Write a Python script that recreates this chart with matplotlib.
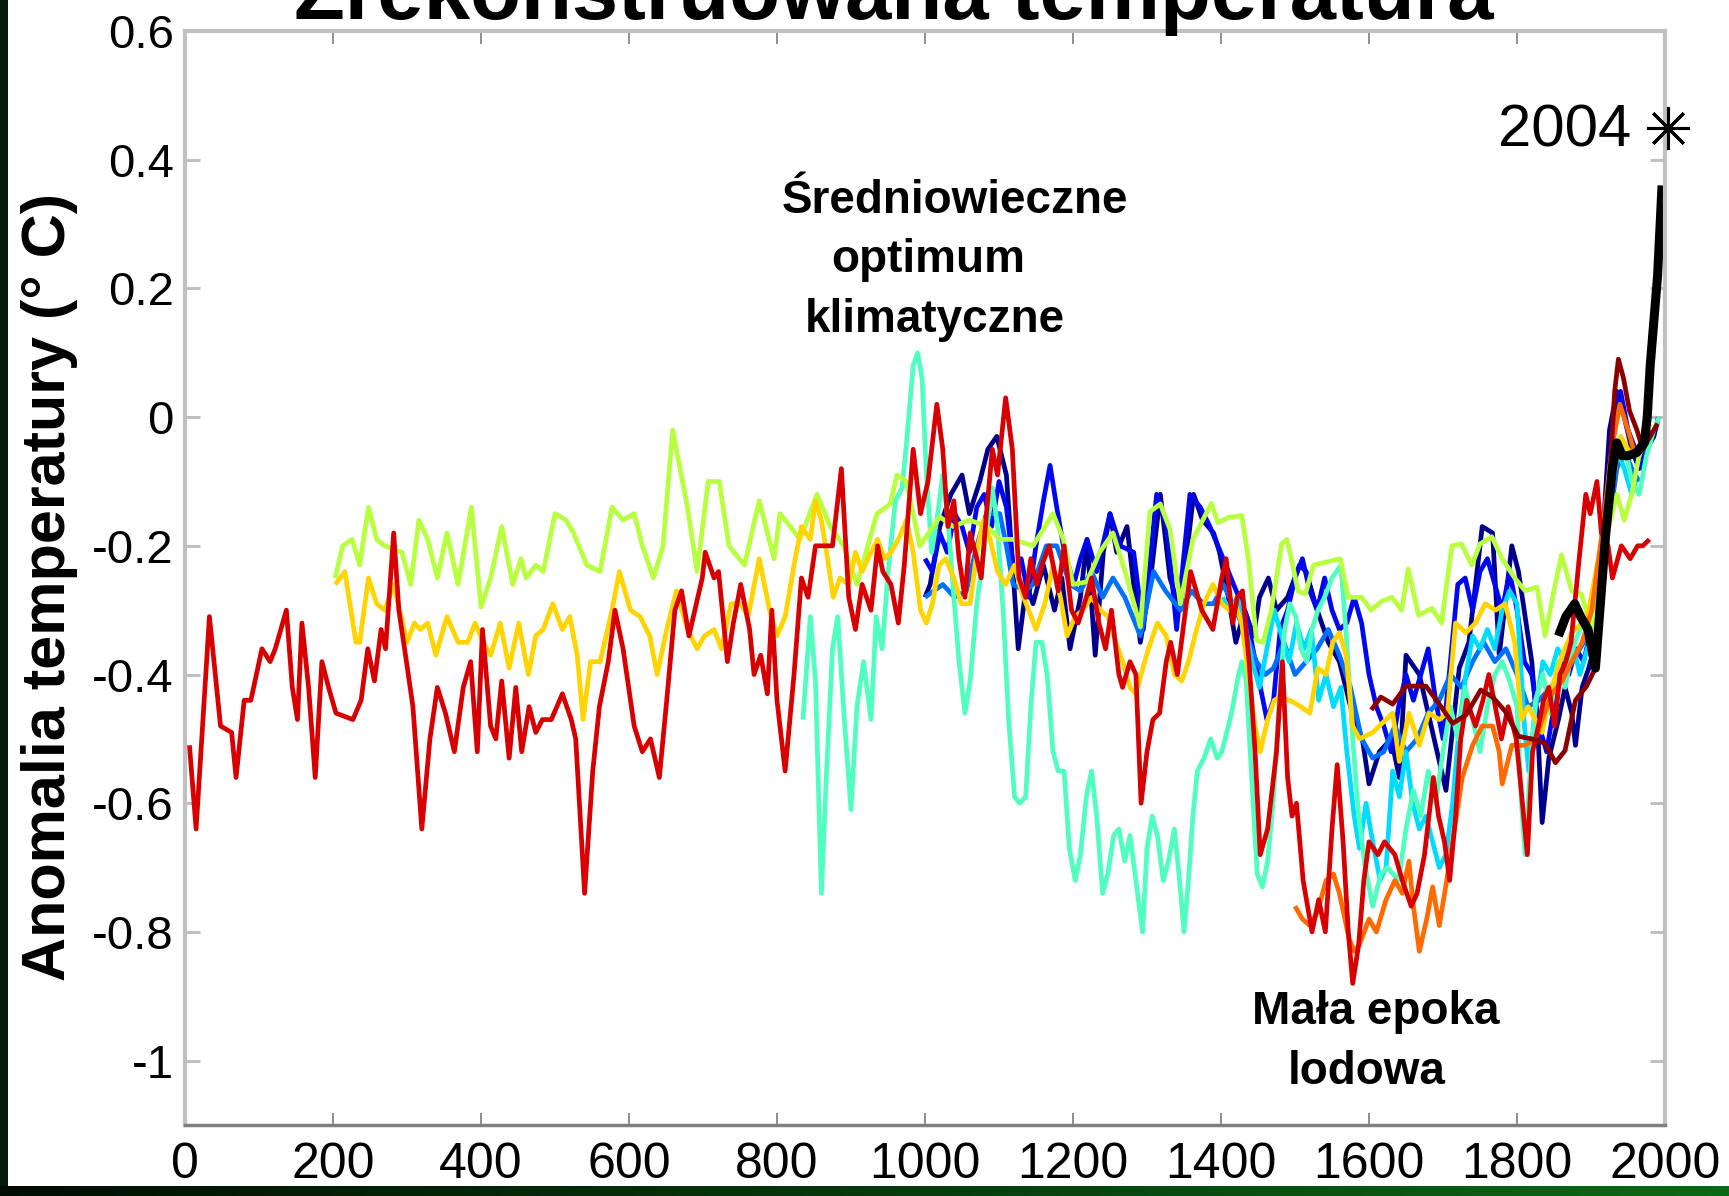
import numpy as np
import matplotlib
matplotlib.use("Agg")
import matplotlib.pyplot as plt
from matplotlib import font_manager
from matplotlib.colors import LinearSegmentedColormap
from matplotlib.patches import Rectangle

W, H, DPI = 1729, 1196, 100

# ---------------- temperature reconstructions (year, anomaly in deg C) ----------------
jones98_years = [1000, 1007, 1020, 1035, 1050, 1060, 1074, 1085, 1097, 1110, 1119, 1126, 1137, 1146, 1160,
                 1175, 1185, 1196, 1210, 1219, 1230, 1241, 1250, 1259, 1273, 1291, 1304, 1318, 1331, 1345,
                 1363, 1375, 1390, 1398, 1410, 1420, 1432, 1444, 1452, 1464, 1475, 1490, 1506, 1515, 1530,
                 1545, 1560, 1575, 1591, 1600, 1614, 1630, 1641, 1650, 1668, 1686, 1704, 1722, 1735, 1753,
                 1767, 1776, 1793, 1802, 1820, 1829, 1834, 1843, 1856, 1865, 1874, 1879, 1888, 1897, 1906,
                 1915, 1925, 1935, 1945, 1955, 1965, 1975, 1985, 1991]
jones98_vals = [-0.28, -0.26, -0.17, -0.12, -0.09, -0.15, -0.10, -0.05, -0.03, -0.09, -0.24, -0.36, -0.26, -0.29, -0.23,
                -0.30, -0.25, -0.36, -0.28, -0.19, -0.37, -0.21, -0.15, -0.21, -0.17, -0.35, -0.26, -0.12, -0.25, -0.30,
                -0.12, -0.16, -0.18, -0.21, -0.28, -0.35, -0.30, -0.34, -0.28, -0.25, -0.30, -0.28, -0.23, -0.24, -0.30,
                -0.35, -0.38, -0.45, -0.50, -0.57, -0.52, -0.50, -0.56, -0.37, -0.40, -0.49, -0.58, -0.39, -0.35, -0.17,
                -0.18, -0.37, -0.20, -0.24, -0.38, -0.51, -0.63, -0.53, -0.47, -0.42, -0.46, -0.51, -0.42, -0.39, -0.35,
                -0.20, -0.02, 0.04, 0.00, -0.05, -0.08, -0.05, -0.03, 0.00]

mann99_years = [1000, 1010, 1020, 1030, 1040, 1050, 1060, 1070, 1080, 1090, 1100, 1110, 1120, 1130, 1140,
                1150, 1160, 1169, 1178, 1187, 1201, 1210, 1219, 1232, 1240, 1250, 1264, 1282, 1295, 1313,
                1327, 1340, 1358, 1372, 1385, 1403, 1417, 1435, 1448, 1462, 1471, 1480, 1490, 1500, 1510,
                1520, 1530, 1540, 1550, 1560, 1570, 1580, 1590, 1600, 1610, 1620, 1630, 1640, 1650, 1660,
                1670, 1680, 1690, 1700, 1710, 1720, 1730, 1740, 1750, 1760, 1770, 1780, 1790, 1800, 1810,
                1820, 1830, 1840, 1850, 1860, 1870, 1880, 1890, 1900, 1910, 1920, 1930, 1940, 1950, 1960,
                1970, 1980]
mann99_vals = [-0.22, -0.24, -0.18, -0.21, -0.15, -0.17, -0.21, -0.14, -0.12, -0.17, -0.10, -0.14, -0.24, -0.22, -0.28,
               -0.20, -0.13, -0.075, -0.14, -0.20, -0.26, -0.22, -0.19, -0.24, -0.20, -0.15, -0.20, -0.21, -0.33, -0.12,
               -0.17, -0.33, -0.12, -0.14, -0.17, -0.22, -0.26, -0.31, -0.39, -0.47, -0.44, -0.33, -0.30, -0.25, -0.22,
               -0.27, -0.30, -0.25, -0.30, -0.33, -0.32, -0.28, -0.32, -0.40, -0.45, -0.48, -0.52, -0.45, -0.40, -0.44,
               -0.40, -0.36, -0.44, -0.50, -0.38, -0.26, -0.25, -0.30, -0.24, -0.22, -0.26, -0.30, -0.24, -0.30, -0.38,
               -0.40, -0.48, -0.52, -0.45, -0.38, -0.40, -0.36, -0.38, -0.33, -0.30, -0.18, 0.00, 0.04, -0.02, -0.05,
               -0.08, -0.02]

crowley_years = [1000, 1012, 1024, 1040, 1056, 1070, 1083, 1101, 1110, 1119, 1135, 1146, 1164, 1178, 1196,
                 1210, 1225, 1240, 1254, 1270, 1291, 1309, 1325, 1345, 1360, 1376, 1390, 1403, 1420, 1435,
                 1448, 1460, 1471, 1485, 1500, 1515, 1530, 1545, 1560, 1575, 1590, 1605, 1620, 1635, 1650,
                 1665, 1680, 1695, 1710, 1725, 1740, 1755, 1770, 1785, 1800, 1815, 1830, 1845, 1860, 1875,
                 1890, 1905, 1920, 1935, 1945, 1955, 1965]
crowley_vals = [-0.28, -0.27, -0.26, -0.28, -0.27, -0.20, -0.15, -0.15, -0.20, -0.26, -0.27, -0.26, -0.20, -0.20, -0.26,
                -0.27, -0.24, -0.28, -0.25, -0.28, -0.34, -0.24, -0.27, -0.30, -0.27, -0.29, -0.29, -0.26, -0.30, -0.34,
                -0.38, -0.40, -0.39, -0.35, -0.40, -0.38, -0.36, -0.33, -0.37, -0.42, -0.50, -0.53, -0.52, -0.48, -0.52,
                -0.50, -0.46, -0.44, -0.40, -0.42, -0.38, -0.35, -0.38, -0.36, -0.40, -0.45, -0.44, -0.42, -0.40, -0.38,
                -0.35, -0.32, -0.20, -0.08, -0.05, -0.08, -0.10]

briffa_years = [1402, 1412, 1422, 1432, 1442, 1452, 1462, 1472, 1482, 1492, 1502, 1512, 1522, 1532, 1542,
                1552, 1562, 1570, 1580, 1587, 1596, 1605, 1615, 1623, 1632, 1641, 1650, 1659, 1668, 1677,
                1686, 1695, 1704, 1713, 1722, 1731, 1740, 1750, 1760, 1770, 1780, 1790, 1800, 1810, 1816,
                1825, 1835, 1845, 1855, 1865, 1875, 1885, 1895, 1905, 1915, 1925, 1935, 1945, 1955, 1960]
briffa_vals = [-0.28, -0.30, -0.28, -0.32, -0.38, -0.42, -0.36, -0.30, -0.34, -0.38, -0.32, -0.36, -0.33, -0.44, -0.40,
               -0.45, -0.42, -0.52, -0.62, -0.67, -0.60, -0.66, -0.72, -0.70, -0.55, -0.59, -0.52, -0.60, -0.64, -0.62,
               -0.66, -0.70, -0.68, -0.60, -0.48, -0.40, -0.34, -0.36, -0.33, -0.36, -0.30, -0.27, -0.29, -0.48, -0.55,
               -0.45, -0.38, -0.40, -0.36, -0.38, -0.35, -0.40, -0.36, -0.30, -0.22, -0.12, -0.05, -0.08, -0.12, -0.10]

esper_years = [835, 845, 852, 860, 867, 875, 882, 891, 900, 908, 917, 927, 934, 942, 951,
               960, 969, 975, 984, 990, 996, 1002, 1009, 1016, 1024, 1031, 1039, 1046, 1054, 1061,
               1070, 1076, 1085, 1091, 1098, 1106, 1113, 1121, 1128, 1136, 1143, 1150, 1158, 1165, 1173,
               1180, 1188, 1195, 1203, 1210, 1218, 1225, 1232, 1240, 1247, 1255, 1262, 1270, 1277, 1285,
               1294, 1300, 1307, 1314, 1322, 1329, 1337, 1344, 1350, 1356, 1362, 1368, 1377, 1386, 1395,
               1401, 1410, 1416, 1422, 1428, 1434, 1441, 1449, 1456, 1463, 1471, 1478, 1486, 1493, 1501,
               1508, 1516, 1523, 1531, 1540, 1550, 1562, 1570, 1578, 1586, 1595, 1605, 1616, 1625, 1640,
               1650, 1660, 1670, 1680, 1690, 1700, 1710, 1720, 1730, 1740, 1750, 1760, 1770, 1780, 1790,
               1800, 1806, 1811, 1816, 1825, 1835, 1845, 1855, 1865, 1875, 1885, 1895, 1905, 1915, 1925,
               1935, 1945, 1955, 1965, 1975, 1985, 1992]
esper_vals = [-0.47, -0.31, -0.41, -0.74, -0.55, -0.36, -0.31, -0.47, -0.61, -0.45, -0.38, -0.47, -0.31, -0.36, -0.23,
              -0.13, -0.11, -0.04, 0.08, 0.10, 0.06, -0.09, -0.21, -0.16, -0.09, -0.16, -0.28, -0.38, -0.46, -0.41,
              -0.29, -0.24, -0.16, -0.11, -0.17, -0.31, -0.47, -0.59, -0.60, -0.59, -0.45, -0.35, -0.35, -0.40, -0.52,
              -0.55, -0.55, -0.67, -0.72, -0.68, -0.59, -0.55, -0.62, -0.74, -0.71, -0.65, -0.64, -0.69, -0.65, -0.72,
              -0.80, -0.67, -0.62, -0.65, -0.72, -0.69, -0.64, -0.72, -0.80, -0.72, -0.62, -0.55, -0.53, -0.50, -0.53,
              -0.52, -0.48, -0.45, -0.41, -0.38, -0.41, -0.55, -0.71, -0.73, -0.69, -0.59, -0.45, -0.33, -0.29, -0.31,
              -0.36, -0.38, -0.33, -0.30, -0.28, -0.25, -0.23, -0.35, -0.50, -0.62, -0.70, -0.76, -0.71, -0.70, -0.72,
              -0.64, -0.58, -0.62, -0.55, -0.60, -0.52, -0.45, -0.50, -0.42, -0.47, -0.52, -0.45, -0.40, -0.38, -0.41,
              -0.45, -0.60, -0.68, -0.58, -0.44, -0.40, -0.46, -0.38, -0.42, -0.36, -0.33, -0.32, -0.28, -0.22, -0.14,
              -0.06, -0.04, -0.10, -0.12, -0.06, -0.02, 0.00]

mann_jones03_years = [203, 213, 226, 236, 248, 259, 270, 293, 305, 316, 328, 341, 354, 369, 387,
                      400, 413, 428, 443, 454, 461, 474, 484, 500, 515, 525, 543, 561, 577, 592,
                      607, 618, 633, 646, 659, 679, 692, 707, 722, 735, 756, 776, 796, 804, 818,
                      831, 854, 872, 890, 908, 935, 953, 962, 975, 993, 1020, 1038, 1060, 1084, 1101,
                      1119, 1146, 1173, 1187, 1200, 1219, 1236, 1254, 1273, 1291, 1304, 1318, 1331, 1345, 1362,
                      1387, 1396, 1410, 1428, 1437, 1448, 1457, 1468, 1482, 1489, 1495, 1504, 1514, 1525, 1543,
                      1561, 1572, 1590, 1603, 1617, 1631, 1644, 1653, 1667, 1685, 1698, 1712, 1725, 1739, 1750,
                      1766, 1780, 1797, 1811, 1827, 1838, 1849, 1860, 1874, 1887, 1901, 1910, 1923, 1935, 1945,
                      1955, 1965, 1975, 1980]
mann_jones03_vals = [-0.25, -0.20, -0.19, -0.23, -0.14, -0.19, -0.20, -0.21, -0.26, -0.16, -0.19, -0.25, -0.18, -0.26, -0.14,
                     -0.295, -0.25, -0.17, -0.26, -0.22, -0.25, -0.23, -0.24, -0.15, -0.16, -0.18, -0.23, -0.24, -0.14, -0.16,
                     -0.15, -0.20, -0.25, -0.20, -0.02, -0.14, -0.24, -0.10, -0.10, -0.20, -0.23, -0.13, -0.22, -0.15, -0.17,
                     -0.19, -0.12, -0.17, -0.20, -0.26, -0.15, -0.135, -0.09, -0.10, -0.20, -0.155, -0.17, -0.16, -0.17, -0.19,
                     -0.19, -0.20, -0.15, -0.19, -0.26, -0.256, -0.21, -0.18, -0.25, -0.326, -0.147, -0.135, -0.174, -0.29, -0.19,
                     -0.134, -0.164, -0.156, -0.153, -0.22, -0.347, -0.35, -0.30, -0.197, -0.19, -0.22, -0.27, -0.275, -0.23, -0.225,
                     -0.22, -0.28, -0.28, -0.30, -0.286, -0.28, -0.30, -0.236, -0.308, -0.297, -0.32, -0.20, -0.197, -0.23, -0.197,
                     -0.186, -0.22, -0.25, -0.27, -0.264, -0.34, -0.275, -0.214, -0.27, -0.275, -0.33, -0.286, -0.175, -0.12, -0.16,
                     -0.12, -0.06, -0.02, -0.02]

jones_mann04_years = [203, 216, 231, 236, 248, 259, 270, 282, 300, 310, 318, 328, 339, 354, 369,
                      382, 392, 403, 413, 426, 438, 451, 464, 474, 484, 497, 510, 520, 530, 538,
                      548, 561, 577, 587, 602, 615, 628, 638, 651, 664, 679, 692, 702, 715, 725,
                      738, 751, 761, 776, 790, 800, 811, 823, 833, 845, 852, 860, 867, 876, 885,
                      897, 906, 915, 927, 936, 945, 954, 964, 975, 984, 994, 1002, 1010, 1019, 1028,
                      1039, 1049, 1061, 1070, 1079, 1088, 1098, 1109, 1121, 1130, 1140, 1150, 1162, 1173, 1183,
                      1192, 1203, 1213, 1225, 1237, 1247, 1258, 1267, 1277, 1285, 1292, 1302, 1314, 1326, 1337,
                      1347, 1356, 1367, 1377, 1389, 1401, 1411, 1419, 1428, 1437, 1446, 1453, 1463, 1472, 1480,
                      1493, 1508, 1520, 1531, 1542, 1551, 1560, 1569, 1578, 1587, 1605, 1623, 1632, 1641, 1654,
                      1668, 1681, 1695, 1706, 1717, 1731, 1744, 1757, 1771, 1784, 1797, 1806, 1815, 1825, 1834,
                      1847, 1861, 1874, 1888, 1897, 1910, 1920, 1930, 1940, 1950, 1960, 1970, 1980]
jones_mann04_vals = [-0.26, -0.24, -0.35, -0.35, -0.25, -0.29, -0.30, -0.26, -0.35, -0.32, -0.33, -0.32, -0.37, -0.31, -0.35,
                     -0.35, -0.32, -0.35, -0.37, -0.32, -0.39, -0.32, -0.40, -0.34, -0.33, -0.29, -0.33, -0.31, -0.37, -0.47,
                     -0.38, -0.38, -0.30, -0.24, -0.30, -0.31, -0.34, -0.40, -0.33, -0.27, -0.33, -0.36, -0.34, -0.33, -0.36,
                     -0.29, -0.29, -0.31, -0.22, -0.30, -0.34, -0.31, -0.23, -0.17, -0.19, -0.13, -0.16, -0.21, -0.28, -0.25,
                     -0.26, -0.21, -0.24, -0.21, -0.19, -0.22, -0.21, -0.19, -0.16, -0.21, -0.30, -0.32, -0.29, -0.23, -0.22,
                     -0.25, -0.29, -0.29, -0.21, -0.16, -0.19, -0.24, -0.26, -0.23, -0.27, -0.30, -0.33, -0.29, -0.23, -0.28,
                     -0.34, -0.31, -0.30, -0.28, -0.30, -0.31, -0.35, -0.38, -0.42, -0.43, -0.40, -0.36, -0.32, -0.34, -0.40,
                     -0.41, -0.38, -0.33, -0.29, -0.26, -0.29, -0.30, -0.29, -0.32, -0.40, -0.48, -0.52, -0.47, -0.44, -0.435,
                     -0.44, -0.45, -0.46, -0.39, -0.40, -0.35, -0.335, -0.37, -0.48, -0.50, -0.49, -0.47, -0.46, -0.535, -0.46,
                     -0.51, -0.46, -0.47, -0.46, -0.32, -0.335, -0.32, -0.29, -0.30, -0.29, -0.35, -0.47, -0.45, -0.47, -0.49,
                     -0.42, -0.37, -0.335, -0.32, -0.30, -0.22, -0.17, -0.09, -0.03, -0.05, -0.06, -0.03, -0.01]

huang_years = [1500, 1510, 1520, 1530, 1542, 1552, 1560, 1573, 1580, 1587, 1600, 1610, 1623, 1635, 1645,
               1654, 1660, 1668, 1678, 1686, 1695, 1705, 1713, 1726, 1740, 1753, 1767, 1776, 1780, 1793,
               1811, 1825, 1834, 1847, 1861, 1874, 1888, 1901, 1915, 1928, 1939, 1950, 1960, 1970, 1980]
huang_vals = [-0.76, -0.78, -0.79, -0.77, -0.72, -0.71, -0.74, -0.81, -0.83, -0.82, -0.78, -0.80, -0.75, -0.72, -0.74,
              -0.69, -0.76, -0.83, -0.78, -0.73, -0.79, -0.72, -0.66, -0.56, -0.51, -0.48, -0.48, -0.52, -0.57, -0.51,
              -0.51, -0.50, -0.47, -0.43, -0.41, -0.38, -0.35, -0.30, -0.18, -0.05, 0.02, -0.02, -0.06, -0.05, -0.02]

moberg_years = [6, 15, 33, 48, 63, 69, 80, 89, 104, 115, 122, 137, 145, 152, 158,
                167, 176, 185, 194, 204, 227, 238, 247, 256, 265, 271, 282, 289, 298, 308,
                320, 331, 341, 352, 364, 376, 386, 395, 402, 413, 420, 428, 438, 447, 455,
                465, 474, 483, 495, 510, 522, 528, 540, 551, 560, 572, 581, 592, 607, 618,
                629, 641, 651, 662, 671, 681, 689, 699, 703, 715, 721, 733, 741, 751, 763,
                769, 778, 787, 793, 800, 811, 823, 833, 842, 852, 864, 875, 887, 897, 906,
                915, 927, 936, 943, 954, 964, 972, 984, 994, 1004, 1016, 1024, 1031, 1039, 1046,
                1054, 1061, 1070, 1076, 1083, 1091, 1098, 1109, 1118, 1127, 1136, 1143, 1151, 1158, 1168,
                1180, 1188, 1198, 1207, 1218, 1225, 1235, 1244, 1252, 1262, 1267, 1277, 1285, 1292, 1300,
                1308, 1317, 1326, 1332, 1341, 1352, 1359, 1374, 1389, 1401, 1407, 1416, 1422, 1429, 1438,
                1446, 1453, 1463, 1475, 1483, 1490, 1496, 1502, 1511, 1523, 1532, 1541, 1550, 1557, 1565,
                1572, 1578, 1586, 1593, 1600, 1612, 1621, 1635, 1645, 1657, 1665, 1675, 1683, 1687, 1694,
                1702, 1709, 1717, 1724, 1732, 1744, 1754, 1762, 1769, 1779, 1788, 1799, 1814, 1821, 1829,
                1836, 1843, 1851, 1858, 1866, 1873, 1884, 1893, 1899, 1908, 1914, 1923, 1929, 1941, 1953,
                1963, 1970, 1979]
moberg_vals = [-0.51, -0.64, -0.31, -0.48, -0.49, -0.56, -0.44, -0.44, -0.36, -0.38, -0.36, -0.30, -0.42, -0.47, -0.32,
               -0.42, -0.56, -0.38, -0.42, -0.46, -0.47, -0.44, -0.36, -0.41, -0.33, -0.36, -0.18, -0.30, -0.37, -0.45,
               -0.64, -0.50, -0.42, -0.46, -0.52, -0.42, -0.38, -0.52, -0.33, -0.48, -0.50, -0.41, -0.53, -0.42, -0.52,
               -0.45, -0.49, -0.47, -0.47, -0.43, -0.47, -0.50, -0.74, -0.55, -0.45, -0.38, -0.30, -0.36, -0.48, -0.52,
               -0.50, -0.56, -0.44, -0.30, -0.27, -0.34, -0.30, -0.25, -0.21, -0.25, -0.24, -0.38, -0.32, -0.26, -0.33,
               -0.40, -0.37, -0.43, -0.30, -0.44, -0.55, -0.40, -0.25, -0.28, -0.20, -0.20, -0.20, -0.08, -0.28, -0.33,
               -0.26, -0.30, -0.20, -0.24, -0.26, -0.32, -0.23, -0.05, -0.15, -0.10, 0.02, -0.05, -0.17, -0.13, -0.22,
               -0.28, -0.18, -0.22, -0.25, -0.15, -0.05, -0.09, 0.03, -0.05, -0.25, -0.28, -0.22, -0.26, -0.23, -0.20,
               -0.27, -0.20, -0.30, -0.32, -0.28, -0.25, -0.32, -0.36, -0.30, -0.40, -0.42, -0.38, -0.40, -0.60, -0.52,
               -0.47, -0.46, -0.38, -0.35, -0.40, -0.30, -0.24, -0.30, -0.33, -0.25, -0.22, -0.32, -0.28, -0.27, -0.38,
               -0.52, -0.68, -0.64, -0.52, -0.38, -0.56, -0.62, -0.60, -0.72, -0.80, -0.75, -0.80, -0.64, -0.54, -0.66,
               -0.80, -0.88, -0.82, -0.72, -0.66, -0.68, -0.66, -0.68, -0.72, -0.76, -0.74, -0.68, -0.60, -0.56, -0.62,
               -0.66, -0.72, -0.62, -0.50, -0.44, -0.48, -0.44, -0.40, -0.44, -0.50, -0.45, -0.50, -0.68, -0.52, -0.48,
               -0.44, -0.42, -0.48, -0.40, -0.38, -0.35, -0.22, -0.12, -0.15, -0.10, -0.18, -0.20, -0.25, -0.20, -0.22,
               -0.20, -0.20, -0.19]

oerlemans_years = [1603, 1616, 1632, 1650, 1677, 1695, 1713, 1731, 1751, 1767, 1784, 1802, 1820, 1838, 1852,
                   1865, 1879, 1894, 1906, 1914, 1920, 1926, 1932, 1937, 1944, 1952, 1962, 1970, 1980, 1990]
oerlemans_vals = [-0.455, -0.435, -0.446, -0.418, -0.418, -0.446, -0.476, -0.463, -0.424, -0.435, -0.457, -0.496, -0.50, -0.507, -0.537,
                  -0.518, -0.44, -0.418, -0.39, -0.30, -0.20, -0.08, 0.04, 0.09, 0.06, 0.01, -0.02, -0.05, -0.03, -0.01]

instrumental_years = [1856, 1866, 1878, 1886, 1896, 1906, 1912, 1920, 1929, 1935, 1942, 1950, 1962, 1972, 1976,
                      1980, 1985, 1990, 1996]
instrumental_vals = [-0.34, -0.31, -0.29, -0.31, -0.33, -0.39, -0.30, -0.18, -0.08, -0.04, -0.06, -0.06, -0.055, -0.04, 0.00,
                     0.08, 0.15, 0.22, 0.36]

mark_2004_year = 2004
mark_2004_val = 0.45

x_ticks = [0, 200, 400, 600, 800, 1000, 1200, 1400, 1600, 1800, 2000]
y_ticks = [0.6, 0.4, 0.2, 0.0, -0.2, -0.4, -0.6, -0.8, -1.0]
y_tick_labels = ['0.6', '0.4', '0.2', '0', '-0.2', '-0.4', '-0.6', '-0.8', '-1']


def available(family, fallback):
    try:
        font_manager.findfont(font_manager.FontProperties(family=family), fallback_to_default=False)
        return family
    except ValueError:
        return fallback


SANS = 'Liberation Sans'
NARROW = available('Liberation Sans Narrow', SANS)

plt.rcParams['font.family'] = [SANS, 'DejaVu Sans']
plt.rcParams['axes.unicode_minus'] = False

fig = plt.figure(figsize=(W / DPI, H / DPI), dpi=DPI, facecolor='white')

# dark frame strips at the left and bottom edges
fig.patches.append(Rectangle((0, 0), 8 / W, 1, transform=fig.transFigure,
                             facecolor='#021a07', edgecolor='none', zorder=5))
strip = fig.add_axes([0, 0, 1, 10 / H], zorder=6)
strip_cmap = LinearSegmentedColormap.from_list('frame', ['#010d03', '#053a0c', '#0b6a14'])
strip.imshow(np.linspace(0, 1, 256)[None, :], aspect='auto', cmap=strip_cmap,
             extent=(0, 1, 0, 1))
strip.set_axis_off()

ax = fig.add_axes([185 / W, 1 - 1125 / H, (1665 - 185) / W, (1125 - 31) / H])
ax.set_facecolor('white')

LW = 3.4
series = [
    (jones98_years, jones98_vals, '#00008c', LW),
    (mann99_years, mann99_vals, '#0008f0', LW),
    (crowley_years, crowley_vals, '#0070ff', LW),
    (briffa_years, briffa_vals, '#00dcff', LW),
    (esper_years, esper_vals, '#50ffc0', LW),
    (mann_jones03_years, mann_jones03_vals, '#b8ff40', LW),
    (jones_mann04_years, jones_mann04_vals, '#ffd400', LW),
    (huang_years, huang_vals, '#ff6a00', LW),
    (moberg_years, moberg_vals, '#d80000', LW),
    (oerlemans_years, oerlemans_vals, '#8c0000', LW),
    (instrumental_years, instrumental_vals, '#000000', 6.5),
]
for yrs, vals, col, lw in series:
    ax.plot(yrs, vals, color=col, lw=lw, solid_joinstyle='round', solid_capstyle='butt')

ax.plot([mark_2004_year], [mark_2004_val], linestyle='none', marker=(8, 2, 0), ms=31,
        mew=2.2, color='black', clip_on=False, zorder=10)
ax.text(1955, 0.42, '2004', ha='right', va='baseline', fontsize=43)

# period annotations
ann = dict(ha='center', va='baseline', fontsize=33, fontweight='bold', color='black')
ax.text(1040, 0.317, 'Średniowieczne', **ann)
ax.text(1004, 0.226, 'optimum', **ann)
ax.text(1013, 0.133, 'klimatyczne', **ann)
ax.text(1609, -0.943, 'Mała epoka', **ann)
ax.text(1597, -1.036, 'lodowa', **ann)

ax.set_xlim(0, 2000)
ax.set_ylim(-1.1, 0.6)
ax.set_xticks(x_ticks)
ax.set_xticklabels([str(v) for v in x_ticks], family=NARROW)
ax.set_yticks(y_ticks)
ax.set_yticklabels(y_tick_labels)

ax.tick_params(axis='y', direction='in', left=True, right=True, length=11, width=2.2,
               color='#c0c0c0', labelsize=34, pad=8)
ax.tick_params(axis='x', direction='in', bottom=True, top=True, length=9, width=1.1,
               color='#707070', labelsize=36, pad=12)

for side in ('left', 'top', 'right'):
    ax.spines[side].set_color('#c0c0c0')
    ax.spines[side].set_linewidth(3)
ax.spines['bottom'].set_color('#808080')
ax.spines['bottom'].set_linewidth(2.5)

fig.text(50 / W, 1 - 587 / H, 'Anomalia temperatury (° C)', rotation=90,
         ha='center', va='center', fontsize=44, fontweight='bold')

fig.text(894 / W, 1 - 19.5 / H, 'Zrekonstruowana temperatura', ha='center', va='baseline',
         fontsize=72 if NARROW != SANS else 60, fontweight='bold', family=NARROW)

fig.savefig('out.png', dpi=DPI, facecolor='white')
